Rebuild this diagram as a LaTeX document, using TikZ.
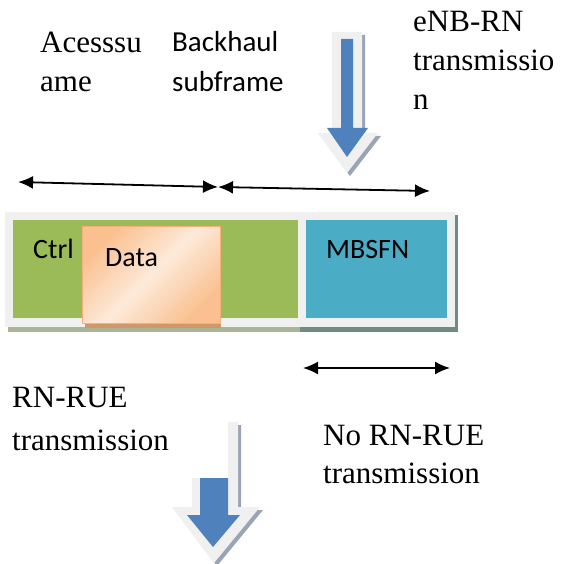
\documentclass[tikz,border=0pt]{standalone}
\usepackage{fontspec}
\setmainfont{Liberation Serif}
\newfontfamily\calibri{Carlito}
\usepackage{tikz}
\usetikzlibrary{positioning}
\usetikzlibrary{arrows.meta}

\definecolor{subgreen}{HTML}{9BBB59}
\definecolor{mbsfnblue}{HTML}{4BACC6}
\definecolor{arrblue}{HTML}{4F81BD}
\definecolor{framegray}{HTML}{F0F0F0}
\definecolor{shadowgreen}{HTML}{A9B596}
\definecolor{shadowteal}{HTML}{6E8C84}
\definecolor{arrshadow}{HTML}{9AA4B5}
\definecolor{dataedge}{HTML}{FAC08F}
\definecolor{datamid}{HTML}{FDEADA}
\definecolor{databorder}{HTML}{F8B07A}

\begin{document}
\begin{tikzpicture}[x=1pt, y=-1pt,
			serifnote/.style={font=\fontsize{31}{39}\selectfont, align=left, anchor=base west, inner sep=0pt},
			sansnote/.style={font=\calibri\fontsize{28}{40}\selectfont, align=left, anchor=base west, inner sep=0pt},
			subbox/.style={rectangle, anchor=north west, inner sep=0pt},
			span/.style={{Latex[length=15pt,width=13pt]}-{Latex[length=15pt,width=13pt]}, line width=1.8pt}]
			\useasboundingbox (0,0) rectangle (560,564);
			
			% labels at the top (anchored at the last baseline)
			\node[serifnote] (access) at (40,92) {Acesssu\\ame};
			\node[sansnote, font=\calibri\fontsize{29}{40}\selectfont] (backhaul) at (172,92) {Backhaul\\subframe};
			\node[serifnote] (enbrn) at (413,110) {eNB-RN\\transmissio\\n};
			
			% eNB-RN arrow
			\fill[arrshadow] (335,35) -- (365,35) -- (365,136) -- (381,136) -- (350,176) -- (321,136) -- (335,136) -- cycle;
			\fill[framegray] (332,32) -- (362,32) -- (362,133) -- (378,133) -- (347,173) -- (318,133) -- (332,133) -- cycle;
			\fill[arrblue] (341,39) -- (353,39) -- (353,128) -- (368,128) -- (347,157) -- (327,128) -- (341,128) -- cycle;
			
			% spans above the subframes
			\coordinate (accl) at (18,182);
			\coordinate (mid) at (218,187);
			\coordinate (bhr) at (430,191);
			\draw[span] (accl) -- (mid);
			\draw[span] (mid) -- (bhr);
			
			% the two subframes
			\fill[shadowgreen] (8,215) rectangle (300,332);
			\fill[shadowteal] (300,215) rectangle (458,332);
			\fill[framegray] (5,212) rectangle (455,327);
			\node[subbox, fill=subgreen, minimum width=285pt, minimum height=98pt] (sub1) at (13,220) {};
			\node[subbox, fill=mbsfnblue, minimum width=141pt, minimum height=98pt] (sub2) at (306,220) {};
			\node[sansnote] (ctrl) at (33,258) {Ctrl};
			\fill[databorder!85!black] (85,229) rectangle (221,328);
			\node[subbox, draw=databorder, line width=0.8pt, left color=dataedge, right color=dataedge, middle color=datamid, shading angle=45, minimum width=138pt, minimum height=97pt] (data) at (82,226) {};
			\node[sansnote] (datatext) at (105,266) {Data};
			\node[sansnote] (mbsfn) at (326,258) {MBSFN};
			
			% span below MBSFN
			\coordinate (nol) at (303,368);
			\coordinate (nor) at (450,368);
			\draw[span] (nol) -- (nor);
			
			% labels at the bottom
			\node[serifnote, font=\fontsize{31}{43}\selectfont] (rnrue) at (12,450) {RN-RUE\\transmission};
			\node[serifnote, font=\fontsize{31}{38}\selectfont] (nornrue) at (323,483) {No RN-RUE\\transmission};
			
			% RN-RUE arrow
			\fill[arrshadow] (231,425) -- (241,425) -- (241,510) -- (263,510) -- (217,566) -- (175,510) -- (195,510) -- (195,481) -- (231,481) -- cycle;
			\fill[framegray] (228,422) -- (238,422) -- (238,507) -- (260,507) -- (214,563) -- (172,507) -- (192,507) -- (192,478) -- (228,478) -- cycle;
			\fill[arrblue] (200,478) -- (228,478) -- (228,515) -- (240,515) -- (213,547) -- (187,515) -- (200,515) -- cycle;
		\end{tikzpicture}
\end{document}
